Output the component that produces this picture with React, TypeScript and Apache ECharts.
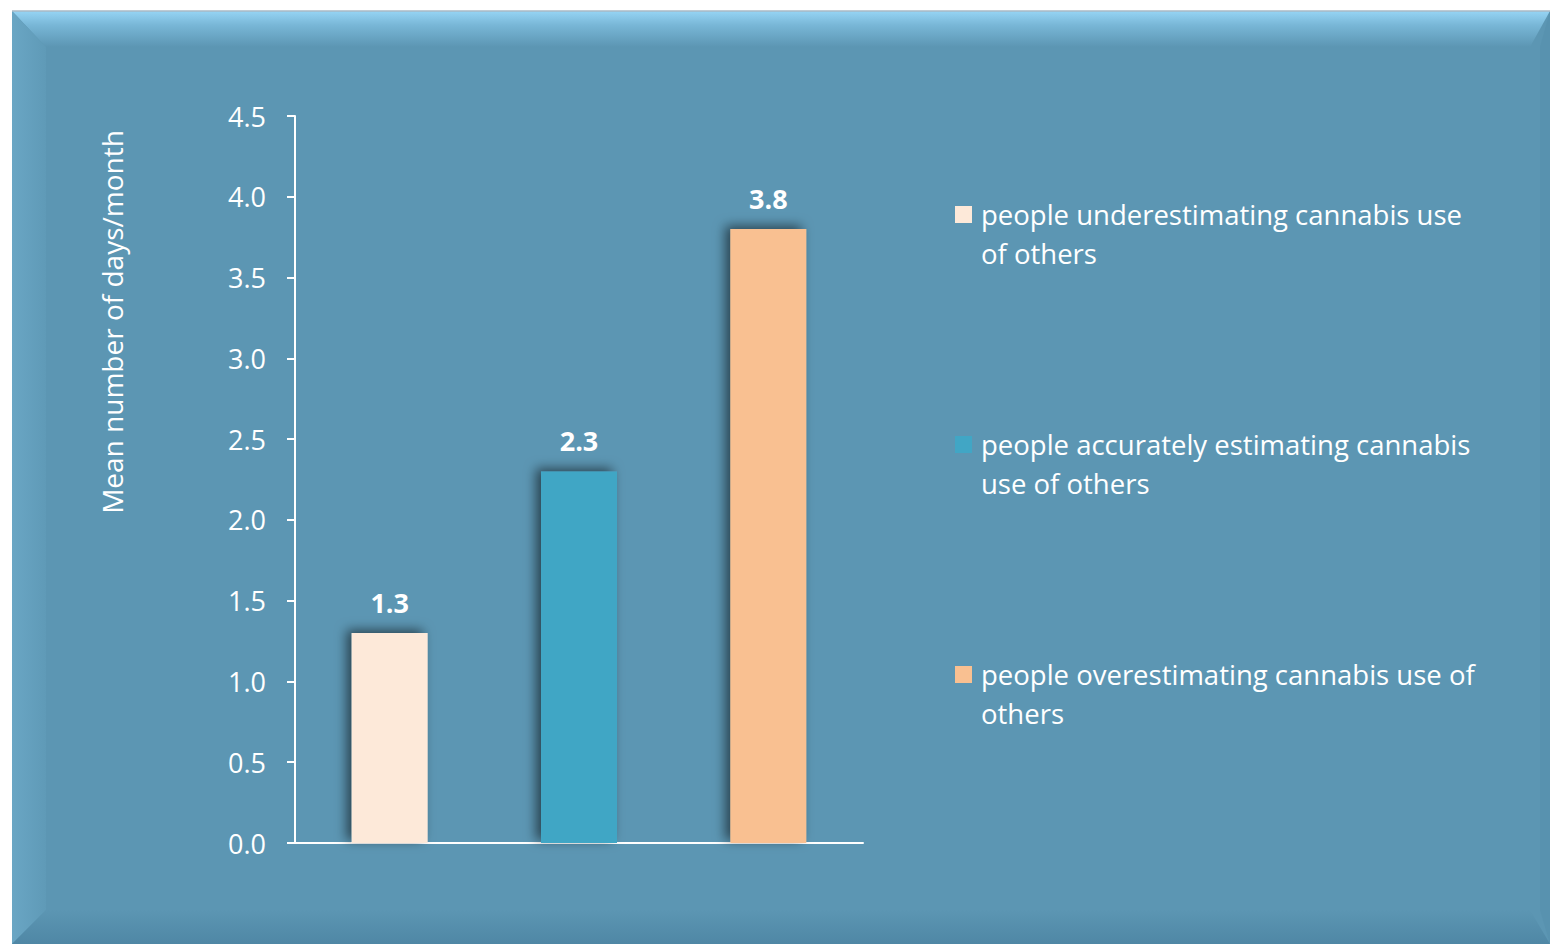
import React, { useEffect, useRef } from "react";
import * as echarts from "echarts";

const categories = ["Underestimating", "Accurately estimating", "Overestimating"];
const values = [1.3, 2.3, 3.8];
const seriesNames = [
  "people underestimating cannabis use of others",
  "people accurately estimating cannabis use of others",
  "people overestimating cannabis use of others",
];
const legendLines = [
  ["people underestimating cannabis use", "of others"],
  ["people accurately estimating cannabis", "use of others"],
  ["people overestimating cannabis use of", "others"],
];
const barColors = ["#fde9d9", "#41a6c5", "#f9c091"];
const yAxisTitle = "Mean number of days/month";

const FONT = "'Open Sans', sans-serif";

export default function App() {
  const ref = useRef<HTMLDivElement>(null);
  useEffect(() => {
    if (!ref.current) return;
    const chart = echarts.init(ref.current, null, { renderer: "svg" });
    const W = 1550, H = 944;
    const L = 12, T = 11;
    const base = "#5c96b3";
    const option: any = {
      animation: false,
      backgroundColor: "#ffffff",
      graphic: [
        { type: "rect", shape: { x: L, y: T, width: W - L, height: H - T }, style: { fill: base }, z: -10 },
        {
          type: "polygon",
          shape: { points: [[L, T], [W, T], [W - 20, T + 36], [L + 34, T + 36]] },
          style: {
            fill: new echarts.graphic.LinearGradient(0, 0, 0, 1, [
              { offset: 0, color: "#96d4f4" },
              { offset: 0.4, color: "#78b6d6" },
              { offset: 1, color: base },
            ]),
          },
          z: -9,
        },
        {
          type: "polygon",
          shape: { points: [[L, T], [L + 34, T + 36], [L + 34, H - 34], [L, H]] },
          style: {
            fill: new echarts.graphic.LinearGradient(0, 0, 1, 0, [
              { offset: 0, color: "#6aa6c4" },
              { offset: 1, color: "#5f9ab7" },
            ]),
          },
          z: -9,
        },
        {
          type: "polygon",
          shape: { points: [[L, H], [L + 34, H - 34], [W - 20, H - 34], [W, H]] },
          style: {
            fill: new echarts.graphic.LinearGradient(0, 0, 0, 1, [
              { offset: 0, color: base },
              { offset: 1, color: "#4f87a5" },
            ]),
          },
          z: -9,
        },
        {
          type: "polygon",
          shape: { points: [[W, T], [W - 10, T + 36], [W - 10, H - 34], [W, H]] },
          style: { fill: "#5892af" },
          z: -9,
        },
        { type: "line", shape: { x1: L, y1: T, x2: W, y2: T }, style: { stroke: "#a9b9c4", lineWidth: 1.5 }, z: -8 },
        {
          type: "text",
          x: 112,
          y: 322,
          rotation: Math.PI / 2,
          style: {
            text: yAxisTitle,
            fill: "#ffffff",
            font: `28px ${FONT}`,
            align: "center",
            verticalAlign: "middle",
          },
        },
      ],
      grid: { left: 295, top: 116, right: W - 863, bottom: H - 843, containLabel: false },
      xAxis: {
        type: "category",
        data: categories,
        axisLine: { show: true, lineStyle: { color: "#ffffff", width: 2 } },
        axisTick: { show: false },
        axisLabel: { show: false },
      },
      yAxis: {
        type: "value",
        min: 0,
        max: 4.5,
        interval: 0.5,
        splitLine: { show: false },
        axisLine: { show: true, lineStyle: { color: "#ffffff", width: 2 } },
        axisTick: { show: true, length: 8, lineStyle: { color: "#ffffff", width: 2 } },
        axisLabel: {
          color: "#ffffff",
          fontSize: 27,
          fontFamily: FONT,
          margin: 29,
          formatter: (v: number) => v.toFixed(1),
        },
      },
      legend: {
        orient: "vertical",
        left: 955,
        top: 156,
        padding: 0,
        itemWidth: 17,
        itemHeight: 17,
        itemGap: 113,
        icon: "rect",
        data: seriesNames,
        formatter: (name: string) =>
          "{t| }\n" + legendLines[seriesNames.indexOf(name)].map((s) => `{t|${s}}`).join("\n"),
        textStyle: {
          color: "#ffffff",
          fontSize: 27.5,
          fontFamily: FONT,
          lineHeight: 39,
          rich: {
            t: {
              color: "#ffffff",
              fontSize: 27.5,
              fontFamily: FONT,
              lineHeight: 39,
              padding: [0, 0, 0, 4],
            },
          },
        },
      },
      series: seriesNames.map((name, i) => ({
        name,
        type: "bar",
        barWidth: 76,
        barGap: "-100%",
        data: values.map((v, j) => (j === i ? v : "-")),
        itemStyle: {
          color: barColors[i],
          shadowColor: "rgba(0,0,0,0.55)",
          shadowBlur: 12,
          shadowOffsetX: -5,
          shadowOffsetY: -3,
        },
        label: {
          show: true,
          position: "top",
          distance: 17,
          color: "#ffffff",
          fontWeight: "bold",
          fontSize: 27,
          fontFamily: FONT,
          formatter: (p: any) => Number(p.value).toFixed(1),
        },
      })),
    };
    chart.setOption(option);
    return () => chart.dispose();
  }, []);
  return (
    <div
      ref={ref}
      style={{ position: "fixed", left: 0, top: 0, width: 1550, height: 944 }}
    />
  );
}
